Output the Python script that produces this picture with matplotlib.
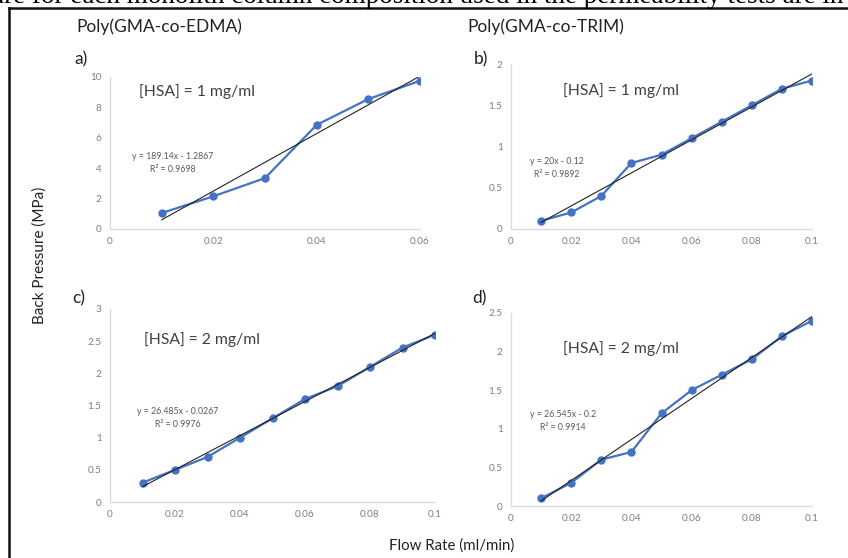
import matplotlib.pyplot as plt
from matplotlib.lines import Line2D

# data
x_a = [0.01, 0.02, 0.03, 0.04, 0.05, 0.06]
y_a = [1.05, 2.15, 3.35, 6.85, 8.55, 9.75]
x_b = [0.01, 0.02, 0.03, 0.04, 0.05, 0.06, 0.07, 0.08, 0.09, 0.1]
y_b = [0.1, 0.2, 0.4, 0.8, 0.9, 1.1, 1.3, 1.5, 1.7, 1.8]
x_c = [0.01, 0.02, 0.03, 0.04, 0.05, 0.06, 0.07, 0.08, 0.09, 0.1]
y_c = [0.3, 0.5, 0.7, 1.0, 1.3, 1.6, 1.8, 2.1, 2.4, 2.6]
x_d = [0.01, 0.02, 0.03, 0.04, 0.05, 0.06, 0.07, 0.08, 0.09, 0.1]
y_d = [0.1, 0.3, 0.6, 0.7, 1.2, 1.5, 1.7, 1.9, 2.2, 2.4]

# trendline coefficients (slope, intercept) and R2 as printed
fit_a = (189.14, -1.2867, 0.9698)
fit_b = (20, -0.12, 0.9892)
fit_c = (26.485, -0.0267, 0.9976)
fit_d = (26.545, -0.2, 0.9914)

eq_a = "y = 189.14x - 1.2867"
eq_b = "y = 20x - 0.12"
eq_c = "y = 26.485x - 0.0267"
eq_d = "y = 26.545x - 0.2"

xt_a = [0, 0.02, 0.04, 0.06]
yt_a = [0, 2, 4, 6, 8, 10]
xt_b = [0, 0.02, 0.04, 0.06, 0.08, 0.1]
yt_b = [0, 0.5, 1, 1.5, 2]
yt_c = [0, 0.5, 1, 1.5, 2, 2.5, 3]
yt_d = [0, 0.5, 1, 1.5, 2, 2.5]

W, H = 848, 558
BLUE = '#4472C4'
GRAY = '#7f7f7f'
FONT = 'Lato'

plt.rcParams['font.family'] = FONT

fig = plt.figure(figsize=(W / 100, H / 100), dpi=100)


def px(x, y):
    return x / W, 1 - y / H


def add_panel(l, t, r, b, xs, ys, fit, eq, xticks, yticks, hsa, eq_pos, hsa_pos, label, lab_pos):
    ax = fig.add_axes([l / W, 1 - b / H, (r - l) / W, (b - t) / H])
    ax.plot(xs, ys, color=BLUE, lw=1.6, marker='o', ms=5, zorder=3)
    x0, x1 = xs[0], xs[-1]
    ax.plot([x0, x1], [fit[0] * x0 + fit[1], fit[0] * x1 + fit[1]],
            color='#222222', lw=0.8, zorder=4)
    ax.set_xlim(xticks[0], xticks[-1])
    ax.set_ylim(yticks[0], yticks[-1])
    ax.set_xticks(xticks)
    ax.set_yticks(yticks)
    ax.set_xticklabels([f"{v:g}" for v in xticks])
    ax.set_yticklabels([f"{v:g}" for v in yticks])
    ax.tick_params(length=0, labelsize=7.2, colors=GRAY, pad=6)
    for s in ['top', 'right']:
        ax.spines[s].set_visible(False)
    for s in ['left', 'bottom']:
        ax.spines[s].set_color('#d9d9d9')
        ax.spines[s].set_linewidth(0.9)
    ax.patch.set_alpha(0)
    fig.text(*px(*eq_pos), eq + "\nR² = %.4f" % fit[2], fontsize=6.3, color='#595959',
             ha='center', va='center', linespacing=1.45)
    fig.text(*px(*hsa_pos), hsa, fontsize=11.3, color='#404040', ha='center', va='center')
    fig.text(*px(*lab_pos), label, fontsize=12.5, color='#222222', ha='left', va='center')
    return ax


add_panel(110, 77, 420, 229, x_a, y_a, fit_a, eq_a, xt_a, yt_a,
          "[HSA] = 1 mg/ml", (173, 163), (197, 92), "a)", (74, 59))
add_panel(511, 64, 812, 229, x_b, y_b, fit_b, eq_b, xt_b, yt_b,
          "[HSA] = 1 mg/ml", (557, 168), (621, 91), "b)", (474, 59))
add_panel(110, 309, 435, 502, x_c, y_c, fit_c, eq_c, xt_b, yt_c,
          "[HSA] = 2 mg/ml", (178, 418), (202, 340), "c)", (72, 298))
add_panel(511, 313, 812, 506, x_d, y_d, fit_d, eq_d, xt_b, yt_d,
          "[HSA] = 2 mg/ml", (563, 421), (621, 349), "d)", (472, 298))

fig.text(*px(76, 27), "Poly(GMA-co-EDMA)", fontsize=12.5, color='#222222', ha='left', va='center')
fig.text(*px(467, 27), "Poly(GMA-co-TRIM)", fontsize=12.5, color='#222222', ha='left', va='center')
fig.text(*px(40, 255), "Back Pressure (MPa)", fontsize=11, color='#222222',
         rotation=90, ha='center', va='center')
fig.text(*px(452, 546), "Flow Rate (ml/min)", fontsize=10.8, color='#222222',
         ha='center', va='center')

# cut-off caption line above the box
fig.text(-0.01, 1 - 3 / H, "are for each monolith column composition used in the permeability tests are in",
         fontsize=19.5, family='Liberation Serif', color='black', ha='left', va='baseline')

# frame (left and top edges only are visible)
fig.add_artist(Line2D([9 / W, 9 / W], [0, 1 - 8 / H], color='#111111', lw=1.8))
fig.add_artist(Line2D([9 / W, 1], [1 - 8 / H, 1 - 8 / H], color='#111111', lw=1.8))

fig.savefig('out.png', dpi=100)
